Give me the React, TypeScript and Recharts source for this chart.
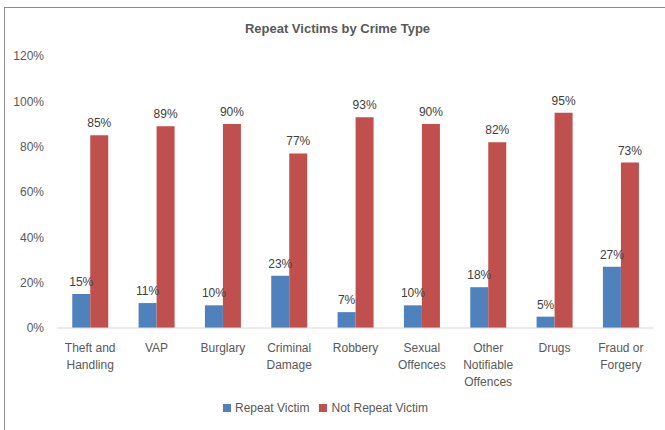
import React from "react";
import { BarChart, Bar, XAxis, YAxis, Legend, LabelList } from "recharts";

const categories = [
  "Theft and\nHandling",
  "VAP",
  "Burglary",
  "Criminal\nDamage",
  "Robbery",
  "Sexual\nOffences",
  "Other\nNotifiable\nOffences",
  "Drugs",
  "Fraud or\nForgery",
];
const repeatVictim = [15, 11, 10, 23, 7, 10, 18, 5, 27];
const notRepeatVictim = [85, 89, 90, 77, 93, 90, 82, 95, 73];
const yTicks = [0, 20, 40, 60, 80, 100, 120];

const data = categories.map((c, i) => ({
  category: c,
  repeat: repeatVictim[i],
  notRepeat: notRepeatVictim[i],
}));

const FONT = "'Liberation Sans', Arial, sans-serif";
const TEXT = "#595959";

const CategoryTick = (props: any) => {
  const { x, y, payload } = props;
  const lines = String(payload.value).split("\n");
  return (
    <g transform={`translate(${x},${y})`}>
      <text textAnchor="middle" fill={TEXT} fontSize={12} fontFamily={FONT}>
        {lines.map((l, i) => (
          <tspan key={i} x={0} y={22 + i * 17}>
            {l}
          </tspan>
        ))}
      </text>
    </g>
  );
};

const order: Record<string, number> = { repeat: 0, notRepeat: 1 };

export default function App() {
  return (
    <div
      style={{
        position: "absolute",
        left: 0,
        top: 0,
        width: 665,
        height: 430,
        overflow: "hidden",
        background: "#fff",
      }}
    >
      <div
        style={{
          position: "absolute",
          left: 4,
          top: 7,
          width: 800,
          height: 600,
          borderLeft: "1px solid #8c8c8c",
          borderTop: "1px solid #8c8c8c",
        }}
      />
      <div
        style={{
          position: "absolute",
          left: 0,
          top: 21,
          width: 675,
          textAlign: "center",
          fontFamily: FONT,
          fontSize: 13,
          fontWeight: "bold",
          color: TEXT,
        }}
      >
        Repeat Victims by Crime Type
      </div>
      <div style={{ position: "absolute", left: 0, top: 0 }}>
        <BarChart
          width={665}
          height={430}
          data={data}
          margin={{ top: 56, right: 11, left: 7, bottom: 12 }}
          barCategoryGap="23%"
          barGap={0}
        >
          <XAxis
            dataKey="category"
            tick={(p: any) => <CategoryTick {...p} y={p.y - 6} />}
            tickLine={false}
            axisLine={{ stroke: "#d9d9d9" }}
            height={70}
            interval={0}
          />
          <YAxis
            domain={[0, 120]}
            ticks={yTicks}
            tickFormatter={(v: number) => `${v}%`}
            tick={{ fill: TEXT, fontSize: 12, fontFamily: FONT, dx: -5 }}
            tickLine={false}
            axisLine={false}
            width={50}
          />
          <Legend
            verticalAlign="bottom"
            height={20}
            iconType="square"
            iconSize={8}
            itemSorter={(item: any) => order[item.dataKey] ?? 0}
            formatter={(v: string) => (
              <span style={{ color: TEXT, fontSize: 12, fontFamily: FONT }}>{v}</span>
            )}
          />
          <Bar dataKey="repeat" name="Repeat Victim" fill="#4F81BD" isAnimationActive={false}>
            <LabelList
              dataKey="repeat"
              position="top"
              offset={8}
              formatter={(v: any) => `${v}%`}
              style={{ fill: "#404040", fontSize: 12, fontFamily: FONT }}
            />
          </Bar>
          <Bar dataKey="notRepeat" name="Not Repeat Victim" fill="#C0504D" isAnimationActive={false}>
            <LabelList
              dataKey="notRepeat"
              position="top"
              offset={8}
              formatter={(v: any) => `${v}%`}
              style={{ fill: "#404040", fontSize: 12, fontFamily: FONT }}
            />
          </Bar>
        </BarChart>
      </div>
    </div>
  );
}
